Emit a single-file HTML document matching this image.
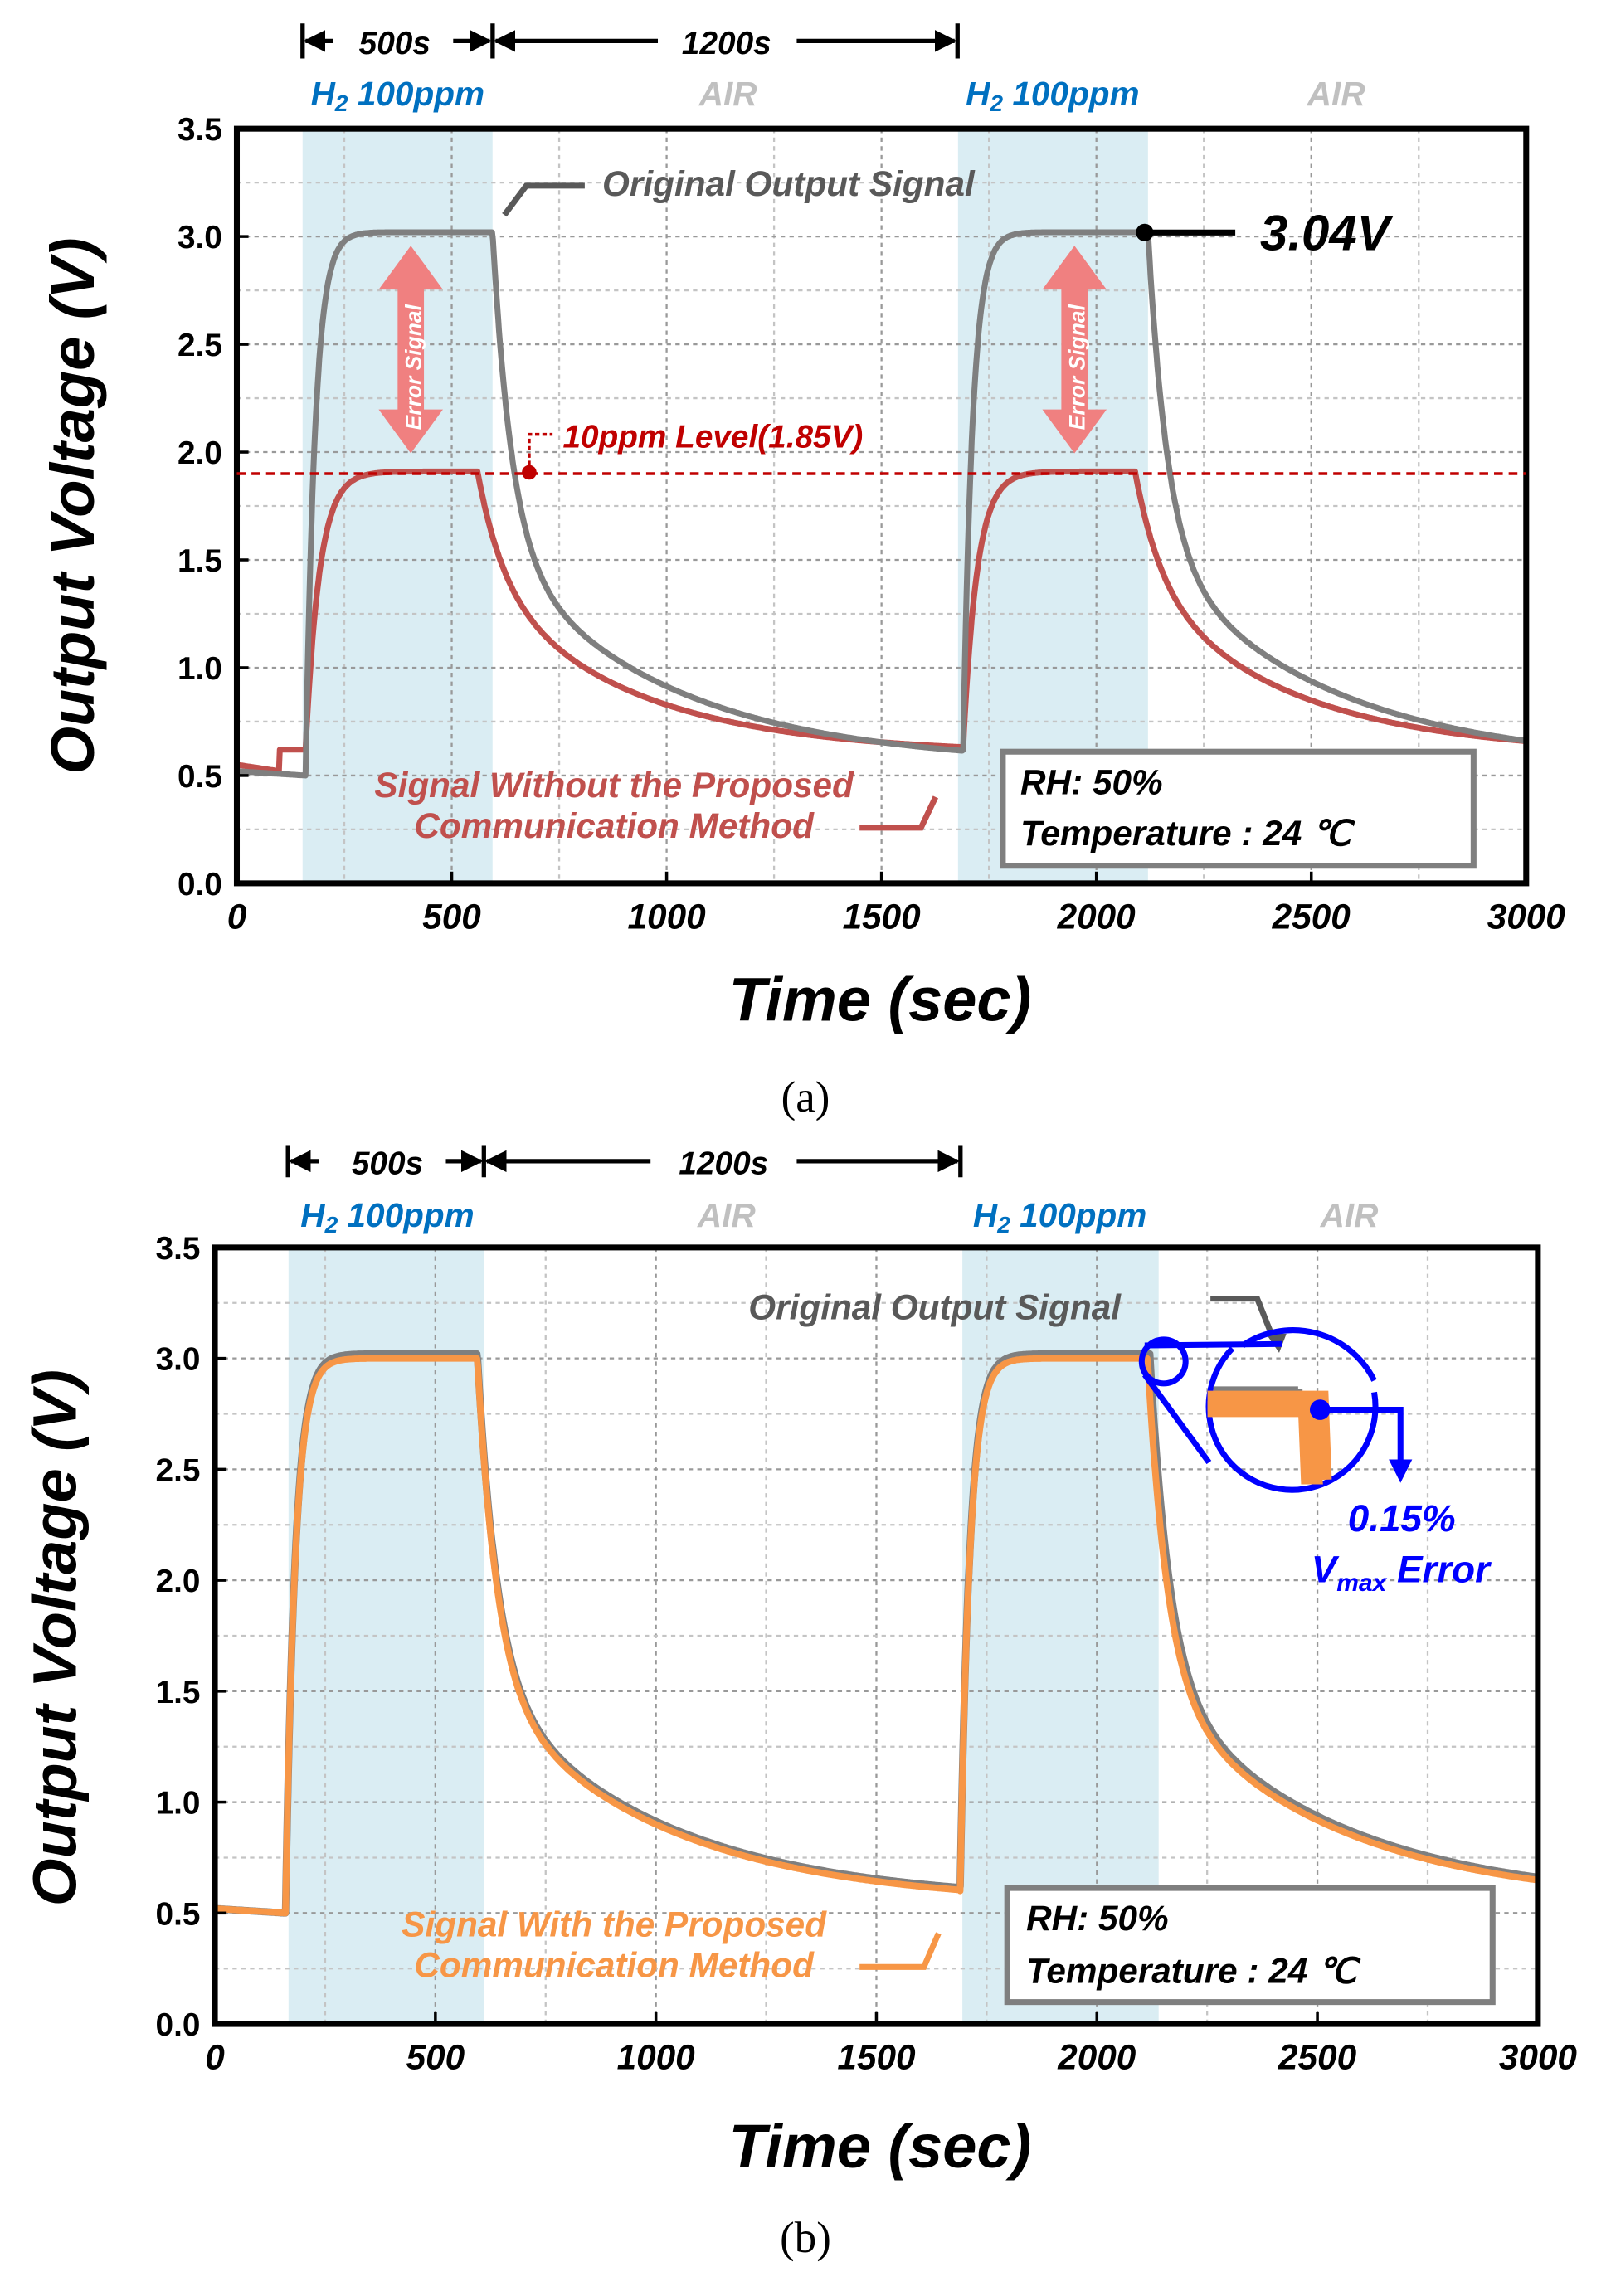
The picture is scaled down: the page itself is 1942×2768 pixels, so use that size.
<!DOCTYPE html>
<html><head><meta charset="utf-8"><style>
html,body{margin:0;padding:0;background:#fff}
svg{display:block}
text{font-family:"Liberation Sans",Arial,sans-serif;font-weight:bold;font-style:italic}
</style></head><body>
<svg id="s" width="1942" height="2768" viewBox="0 0 1102 1570" preserveAspectRatio="none" xmlns="http://www.w3.org/2000/svg">
<defs>
<marker id="ah" viewBox="0 0 10 10" refX="9" refY="5" markerWidth="5" markerHeight="5" orient="auto"><path d="M0,0L10,5L0,10z" fill="#000"/></marker>
</defs>
<g id="A"></g><g id="B"></g>
</svg>
<script>
const NS="http://www.w3.org/2000/svg";
function el(p,t,a,txt){const e=document.createElementNS(NS,t);for(const k in a)e.setAttribute(k,a[k]);if(txt!==undefined)e.textContent=txt;p.appendChild(e);return e;}
function rise(t,t0,b,top,tau){return t<t0?b:top-(top-b)*Math.exp(-(t-t0)/tau);}
function gray(t){
 if(t<160) return 0.52-0.02*t/160;
 if(t<595) return rise(t,160,0.5,3.02,22);
 if(t<1690) {const d=t-595;return 0.55+1.47*Math.exp(-d/45)+1.0*Math.exp(-d/400);}
 if(t<2120) return rise(t,1690,0.62,3.02,22);
 const d=t-2120;return 0.55+1.47*Math.exp(-d/45)+1.0*Math.exp(-d/400);
}
function red(t){
 if(t<100) return 0.55-0.03*t/100;
 if(t<160) return 0.62;
 if(t<560) return rise(t,160,0.62,1.91,32);
 if(t<1690){const d=t-560;return 0.60+0.51*Math.exp(-d/60)+0.8*Math.exp(-d/350);}
 if(t<2090) return rise(t,1690,0.63,1.91,32);
 const d=t-2090;return 0.60+0.51*Math.exp(-d/60)+0.8*Math.exp(-d/350);
}
function orange(t){
 if(t<160) return 0.52-0.02*t/160;
 if(t<595) return rise(t,160,0.5,3.0,22);
 if(t<1690){const d=t-595;return 0.54+1.47*Math.exp(-d/45)+0.99*Math.exp(-d/400);}
 if(t<2115) return rise(t,1690,0.6,3.0,22);
 const d=t-2115;return 0.54+1.47*Math.exp(-d/45)+0.99*Math.exp(-d/400);
}
function panel(g,x0,x1,y0,y1,sh,curves){
 const X=t=>x0+(x1-x0)*t/3000, Y=v=>y1-(y1-y0)*v/3.5;
 sh.forEach(s=>el(g,'rect',{x:X(s[0]),y:y0,width:X(s[1])-X(s[0]),height:y1-y0,fill:'#daedf3'}));
 for(let t=250;t<3000;t+=250) el(g,'line',{x1:X(t),x2:X(t),y1:y0,y2:y1,stroke:t%500?'#c4c4c4':'#999','stroke-width':1.3,'stroke-dasharray':'3,3'});
 for(let v=0.25;v<3.5;v+=0.25) el(g,'line',{x1:x0,x2:x1,y1:Y(v),y2:Y(v),stroke:(Math.round(v*4)%2)?'#c4c4c4':'#999','stroke-width':1.3,'stroke-dasharray':'3,3'});
 curves.forEach(c=>{let d='';for(let t=0;t<=3000;t+=2){let v=c.f(t);d+=(t?'L':'M')+X(t).toFixed(1)+','+Y(v).toFixed(1);}
  el(g,'path',{d:d,fill:'none',stroke:c.col,'stroke-width':c.w,'stroke-linejoin':'round'});});
 el(g,'rect',{x:x0,y:y0,width:x1-x0,height:y1-y0,fill:'none',stroke:'#000','stroke-width':4});
 for(let i=0;i<=7;i++){const v=i*0.5;el(g,'line',{x1:x0,x2:x0+8,y1:Y(v),y2:Y(v),stroke:'#000','stroke-width':2});
  el(g,'text',{x:x0-10,y:Y(v)+8,'text-anchor':'end','font-size':22,style:'font-style:normal'},v.toFixed(1));}
 for(let i=0;i<=6;i++){const t=i*500;el(g,'line',{x1:X(t),x2:X(t),y1:y1,y2:y1-8,stroke:'#000','stroke-width':2});
  el(g,'text',{x:X(t),y:y1+31,'text-anchor':'middle','font-size':24},String(t));}
 return [X,Y];
}
const A=document.getElementById('A'),B=document.getElementById('B');
let [XA,YA]=panel(A,162,1044,88,604,[[153,595],[1678,2120]],[{f:red,col:'#c0504d',w:4},{f:gray,col:'#7f7f7f',w:4}]);
el(A,'line',{x1:162,x2:1044,y1:YA(1.9),y2:YA(1.9),stroke:'#c00000','stroke-width':2,'stroke-dasharray':'6,4'});
let [XB,YB]=panel(B,147,1052,853,1384,[[167,610],[1695,2140]],[{f:gray,col:'#7f7f7f',w:5},{f:orange,col:'#f79646',w:4.5}]);
</script>
<script>
const s=document.getElementById('s');
s.insertAdjacentHTML('beforeend',`
<g fill="#000">
<line x1="207" y1="16" x2="207" y2="40" stroke="#000" stroke-width="3"/>
<line x1="337" y1="16" x2="337" y2="40" stroke="#000" stroke-width="3"/>
<line x1="655" y1="16" x2="655" y2="40" stroke="#000" stroke-width="3"/>
<line x1="228" y1="28" x2="209" y2="28" stroke="#000" stroke-width="3" marker-end="url(#ah)"/>
<line x1="310" y1="28" x2="335" y2="28" stroke="#000" stroke-width="3" marker-end="url(#ah)"/>
<line x1="450" y1="28" x2="339" y2="28" stroke="#000" stroke-width="3" marker-end="url(#ah)"/>
<line x1="545" y1="28" x2="653" y2="28" stroke="#000" stroke-width="3" marker-end="url(#ah)"/>
<text x="270" y="37" font-size="22" text-anchor="middle">500s</text>
<text x="497" y="37" font-size="22" text-anchor="middle">1200s</text>
<text x="272" y="72" font-size="23" text-anchor="middle" fill="#0070c0">H<tspan font-size="16" dy="4">2</tspan><tspan dy="-4"> 100ppm</tspan></text>
<text x="720" y="72" font-size="23" text-anchor="middle" fill="#0070c0">H<tspan font-size="16" dy="4">2</tspan><tspan dy="-4"> 100ppm</tspan></text>
<text x="498" y="72" font-size="23" text-anchor="middle" fill="#c0c0c0">AIR</text>
<text x="914" y="72" font-size="23" text-anchor="middle" fill="#c0c0c0">AIR</text>
<text x="412" y="134" font-size="24" fill="#595959">Original Output Signal</text>
<path d="M400,127 L360,127 L345,147" stroke="#595959" stroke-width="4" fill="none"/>
<circle cx="783" cy="159" r="6"/>
<line x1="783" y1="159" x2="845" y2="159" stroke="#000" stroke-width="4"/>
<text x="862" y="171" font-size="34">3.04V</text>
<text x="385" y="306" font-size="22" fill="#c00000">10ppm Level(1.85V)</text>
<path d="M362,323 V297 H378" stroke="#c00000" stroke-width="2" fill="none" stroke-dasharray="3,2"/>
<circle cx="362" cy="323" r="5" fill="#c00000"/>
<g fill="#f08080"><path d="M281,168 L303,198 L290,198 L290,280 L303,280 L281,310 L259,280 L272,280 L272,198 L259,198Z"/>
<path d="M735,168 L757,198 L744,198 L744,280 L757,280 L735,310 L713,280 L726,280 L726,198 L713,198Z"/></g>
<text transform="translate(288,294) rotate(-90)" font-size="15" fill="#fff">Error Signal</text>
<text transform="translate(742,294) rotate(-90)" font-size="15" fill="#fff">Error Signal</text>
<text x="420" y="545" font-size="24" text-anchor="middle" fill="#c0504d">Signal Without the Proposed</text>
<text x="420" y="573" font-size="24" text-anchor="middle" fill="#c0504d">Communication Method</text>
<path d="M588,566 L630,566 L640,545" stroke="#c0504d" stroke-width="4" fill="none"/>
<rect x="686" y="514" width="322" height="78" fill="#fff" stroke="#7f7f7f" stroke-width="4"/>
<text x="698" y="543" font-size="24">RH: 50%</text>
<text x="698" y="578" font-size="24">Temperature : 24 ℃</text>
<text transform="translate(64,346) rotate(-90)" font-size="42" text-anchor="middle">Output Voltage (V)</text>
<text x="602" y="698" font-size="42" text-anchor="middle">Time (sec)</text>
<text x="551" y="760" font-size="30" text-anchor="middle" style="font-family:'Liberation Serif',serif;font-weight:normal;font-style:normal">(a)</text>
<line x1="197" y1="783" x2="197" y2="805" stroke="#000" stroke-width="3"/>
<line x1="331" y1="783" x2="331" y2="805" stroke="#000" stroke-width="3"/>
<line x1="657" y1="783" x2="657" y2="805" stroke="#000" stroke-width="3"/>
<line x1="218" y1="794" x2="199" y2="794" stroke="#000" stroke-width="3" marker-end="url(#ah)"/>
<line x1="305" y1="794" x2="329" y2="794" stroke="#000" stroke-width="3" marker-end="url(#ah)"/>
<line x1="445" y1="794" x2="333" y2="794" stroke="#000" stroke-width="3" marker-end="url(#ah)"/>
<line x1="545" y1="794" x2="655" y2="794" stroke="#000" stroke-width="3" marker-end="url(#ah)"/>
<text x="265" y="803" font-size="22" text-anchor="middle">500s</text>
<text x="495" y="803" font-size="22" text-anchor="middle">1200s</text>
<text x="265" y="839" font-size="23" text-anchor="middle" fill="#0070c0">H<tspan font-size="16" dy="4">2</tspan><tspan dy="-4"> 100ppm</tspan></text>
<text x="725" y="839" font-size="23" text-anchor="middle" fill="#0070c0">H<tspan font-size="16" dy="4">2</tspan><tspan dy="-4"> 100ppm</tspan></text>
<text x="497" y="839" font-size="23" text-anchor="middle" fill="#c0c0c0">AIR</text>
<text x="923" y="839" font-size="23" text-anchor="middle" fill="#c0c0c0">AIR</text>
<text x="512" y="902" font-size="24" fill="#595959">Original Output Signal</text>
<path d="M828,888 L860,888 L872,918" stroke="#595959" stroke-width="4" fill="none"/>
<path d="M866,912 L880,912 L875,925Z" fill="#595959"/>
<circle cx="796" cy="931" r="15" fill="none" stroke="#0000ff" stroke-width="4"/>
<path d="M783,920 L877,919 M783,940 L827,1000" stroke="#0000ff" stroke-width="4"/>
<path d="M843,922 A57,57 0 1 0 940,952" fill="none" stroke="#0000ff" stroke-width="4"/>
<path d="M850,920 A62,62 0 0 1 940,944" fill="none" stroke="#0000ff" stroke-width="4"/>
<path d="M830,951 L888,951 L888,950" stroke="#7f7f7f" stroke-width="6" fill="none"/>
<path d="M826,958 L900,958 L905,1015 L890,1015 L888,965 L826,965Z" fill="#f79646"/>
<path d="M826,960 L900,960 L902,1012" stroke="#f79646" stroke-width="18" fill="none"/>
<circle cx="903" cy="964" r="7" fill="#0000ff"/>
<path d="M903,964 L958,964 L958,1000" stroke="#0000ff" stroke-width="4" fill="none"/>
<path d="M950,998 L966,998 L958,1014Z" fill="#0000ff"/>
<text x="922" y="1047" font-size="26" fill="#0000ff">0.15%</text>
<text x="897" y="1082" font-size="26" fill="#0000ff">V<tspan font-size="17" dy="6">max</tspan><tspan dy="-6"> Error</tspan></text>
<text x="420" y="1324" font-size="24" text-anchor="middle" fill="#f79646">Signal With the Proposed</text>
<text x="420" y="1352" font-size="24" text-anchor="middle" fill="#f79646">Communication Method</text>
<path d="M588,1345 L632,1345 L642,1322" stroke="#f79646" stroke-width="4" fill="none"/>
<rect x="689" y="1291" width="332" height="78" fill="#fff" stroke="#7f7f7f" stroke-width="4"/>
<text x="702" y="1320" font-size="24">RH: 50%</text>
<text x="702" y="1356" font-size="24">Temperature : 24 ℃</text>
<text transform="translate(52,1120) rotate(-90)" font-size="42" text-anchor="middle">Output Voltage (V)</text>
<text x="602" y="1482" font-size="42" text-anchor="middle">Time (sec)</text>
<text x="551" y="1540" font-size="30" text-anchor="middle" style="font-family:'Liberation Serif',serif;font-weight:normal;font-style:normal">(b)</text>
</g>`);
</script>
</body></html>
